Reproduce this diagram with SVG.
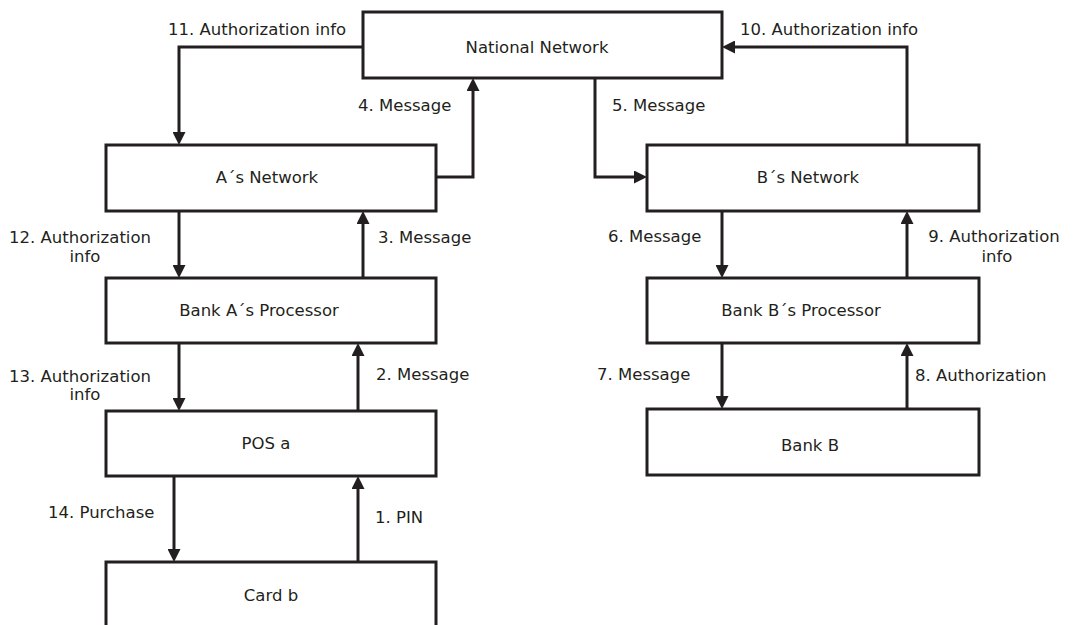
<svg xmlns="http://www.w3.org/2000/svg" width="1087" height="625" viewBox="0 0 1087 625">
<style>
.box{fill:#fff;stroke:#231f20;stroke-width:3}
.t{font-family:"DejaVu Sans","Liberation Sans",sans-serif;font-size:16.5px;fill:#231f20}
.c{fill:none;stroke:#231f20;stroke-width:3;marker-end:url(#ah)}
</style>
<defs>
<marker id="ah" viewBox="0 0 13 13" refX="3" refY="6.5" markerWidth="13" markerHeight="13" markerUnits="userSpaceOnUse" orient="auto">
<path d="M0,0 L13,6.5 L0,13 z" fill="#231f20"/>
</marker>
</defs>
<rect width="1087" height="625" fill="#fff"/>
<g id="connectors">
<path class="c" d="M363,47 H179 V135"/>
<path class="c" d="M436,177 H473 V88"/>
<path class="c" d="M595,78 V177 H637"/>
<path class="c" d="M907,145 V47 H732"/>
<path class="c" d="M179,211 V268"/>
<path class="c" d="M363,278 V221"/>
<path class="c" d="M179,343 V401"/>
<path class="c" d="M358,411 V353"/>
<path class="c" d="M174,476 V552"/>
<path class="c" d="M358,562 V486"/>
<path class="c" d="M722,211 V268"/>
<path class="c" d="M907,278 V221"/>
<path class="c" d="M722,343 V399"/>
<path class="c" d="M907,409 V353"/>
<text class="t" x="168" y="35">11. Authorization info</text>
<text class="t" x="358" y="111">4. Message</text>
<text class="t" x="612" y="111">5. Message</text>
<text class="t" x="740" y="35">10. Authorization info</text>
<text class="t" x="80" y="243" text-anchor="middle">12. Authorization</text>
<text class="t" x="85" y="262" text-anchor="middle">info</text>
<text class="t" x="378" y="243">3. Message</text>
<text class="t" x="80" y="382" text-anchor="middle">13. Authorization</text>
<text class="t" x="85" y="400" text-anchor="middle">info</text>
<text class="t" x="376" y="380">2. Message</text>
<text class="t" x="48" y="518">14. Purchase</text>
<text class="t" x="375" y="523">1. PIN</text>
<text class="t" x="608" y="242">6. Message</text>
<text class="t" x="994" y="242" text-anchor="middle">9. Authorization</text>
<text class="t" x="997" y="262" text-anchor="middle">info</text>
<text class="t" x="597" y="380">7. Message</text>
<text class="t" x="915" y="381">8. Authorization</text>
</g>
<g id="national"><rect class="box" x="363" y="12" width="359" height="66"/><text class="t" x="537" y="53" text-anchor="middle">National Network</text></g>
<g id="anet"><rect class="box" x="106" y="145" width="330" height="66"/><text class="t" x="267" y="183" text-anchor="middle">A´s Network</text></g>
<g id="aproc"><rect class="box" x="106" y="278" width="330" height="65"/><text class="t" x="259" y="316" text-anchor="middle">Bank A´s Processor</text></g>
<g id="pos"><rect class="box" x="106" y="411" width="330" height="65"/><text class="t" x="266" y="449" text-anchor="middle">POS a</text></g>
<g id="card"><rect class="box" x="106" y="562" width="330" height="80"/><text class="t" x="271" y="601" text-anchor="middle">Card b</text></g>
<g id="bnet"><rect class="box" x="647" y="145" width="332" height="66"/><text class="t" x="808" y="183" text-anchor="middle">B´s Network</text></g>
<g id="bproc"><rect class="box" x="647" y="278" width="332" height="65"/><text class="t" x="801" y="316" text-anchor="middle">Bank B´s Processor</text></g>
<g id="bankb"><rect class="box" x="647" y="409" width="332" height="66"/><text class="t" x="810" y="451" text-anchor="middle">Bank B</text></g>
</svg>
